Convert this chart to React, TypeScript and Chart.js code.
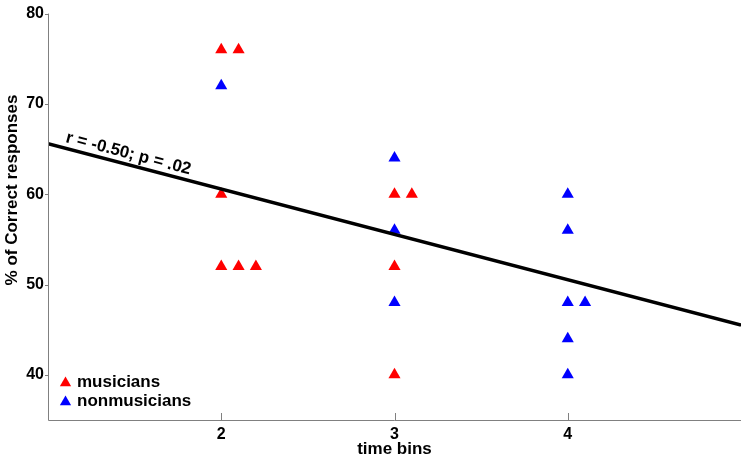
import React, { useEffect, useRef } from "react";
import { Chart, registerables } from "chart.js";

Chart.register(...registerables);

const musiciansX = [2, 2.1, 2, 2, 2.1, 2.2, 3, 3.1, 3, 3];
const musiciansY = [76, 76, 60, 52, 52, 52, 60, 60, 52, 40];
const nonmusiciansX = [2, 3, 3, 3, 4, 4, 4, 4.1, 4, 4];
const nonmusiciansY = [72, 64, 56, 48, 60, 56, 48, 48, 44, 40];
const fitX = [1, 5];
const fitY = [65.6, 45.5];
const xTicks = [2, 3, 4];
const yTicks = [40, 50, 60, 70, 80];
const seriesLabels = ["musicians", "nonmusicians"];
const seriesColors = ["#ff0000", "#0000ff"];
const annotationText = "r = -0.50; p = .02";
const xTitle = "time bins";
const yTitle = "% of Correct responses";

const FONT = '"Liberation Sans", Arial, sans-serif';

function drawTri(ctx: CanvasRenderingContext2D, x: number, y: number, r: number) {
  ctx.beginPath();
  ctx.moveTo(x, y - r);
  ctx.lineTo(x + (r * Math.sqrt(3)) / 2, y + r / 2);
  ctx.lineTo(x - (r * Math.sqrt(3)) / 2, y + r / 2);
  ctx.closePath();
  ctx.fill();
}

const decorPlugin = {
  id: "decor",
  afterDraw(chart: any) {
    const { ctx, chartArea, scales } = chart;
    const xs = scales.x;
    const ys = scales.y;
    ctx.save();
    // axes lines
    ctx.strokeStyle = "#808080";
    ctx.lineWidth = 1;
    ctx.beginPath();
    ctx.moveTo(chartArea.left + 0.5, chartArea.top);
    ctx.lineTo(chartArea.left + 0.5, chartArea.bottom + 0.5);
    ctx.lineTo(chartArea.right, chartArea.bottom + 0.5);
    ctx.stroke();
    // ticks
    ctx.beginPath();
    yTicks.forEach((v) => {
      const py = Math.round(ys.getPixelForValue(v)) + 0.5;
      ctx.moveTo(chartArea.left - 3, py);
      ctx.lineTo(chartArea.left, py);
    });
    xTicks.forEach((v) => {
      const px = Math.round(xs.getPixelForValue(v)) + 0.5;
      ctx.moveTo(px, chartArea.bottom);
      ctx.lineTo(px, chartArea.bottom - 7);
    });
    ctx.stroke();

    // y title (MATLAB places it slightly above the axis centre)
    ctx.fillStyle = "#000";
    ctx.font = `bold 17px ${FONT}`;
    ctx.translate(12, 190);
    ctx.rotate(-Math.PI / 2);
    ctx.textAlign = "center";
    ctx.textBaseline = "middle";
    ctx.fillText(yTitle, 0, 0);
    ctx.setTransform(1, 0, 0, 1, 0, 0);

    // annotation along fit line
    const x0 = xs.getPixelForValue(fitX[0]);
    const y0 = ys.getPixelForValue(fitY[0]);
    const x1 = xs.getPixelForValue(fitX[1]);
    const y1 = ys.getPixelForValue(fitY[1]);
    const ang = Math.atan2(y1 - y0, x1 - x0);
    const ax = xs.getPixelForValue(1.09);
    const t = (ax - x0) / (x1 - x0);
    const ay = y0 + t * (y1 - y0);
    ctx.translate(ax, ay);
    ctx.rotate(ang);
    ctx.fillStyle = "#000";
    ctx.font = `bold 17px ${FONT}`;
    ctx.textAlign = "left";
    ctx.textBaseline = "alphabetic";
    ctx.fillText(annotationText, 0, -6);
    ctx.setTransform(1, 0, 0, 1, 0, 0);

    // legend
    ctx.font = `bold 17px ${FONT}`;
    ctx.textBaseline = "middle";
    ctx.textAlign = "left";
    seriesLabels.forEach((lab, i) => {
      const ly = chartArea.bottom - 38 + i * 19;
      ctx.fillStyle = seriesColors[i];
      drawTri(ctx, chartArea.left + 17.5, ly + 1, 6.5);
      ctx.fillStyle = "#000";
      ctx.fillText(lab, chartArea.left + 29, ly);
    });
    ctx.restore();
  },
};

export default function App() {
  const ref = useRef<HTMLCanvasElement>(null);
  useEffect(() => {
    if (!ref.current) return;
    const chart = new Chart(ref.current, {
      type: "scatter",
      data: {
        datasets: [
          {
            type: "line",
            label: "fit",
            data: fitX.map((x, i) => ({ x, y: fitY[i] })),
            borderColor: "#000",
            borderWidth: 3.5,
            pointRadius: 0,
            order: 0,
          } as any,
          {
            label: seriesLabels[0],
            data: musiciansX.map((x, i) => ({ x, y: musiciansY[i] })),
            pointStyle: "triangle",
            pointRadius: 7,
            backgroundColor: seriesColors[0],
            borderColor: seriesColors[0],
            borderWidth: 0,
            order: 1,
          },
          {
            label: seriesLabels[1],
            data: nonmusiciansX.map((x, i) => ({ x, y: nonmusiciansY[i] })),
            pointStyle: "triangle",
            pointRadius: 7,
            backgroundColor: seriesColors[1],
            borderColor: seriesColors[1],
            borderWidth: 0,
            order: 2,
          },
        ],
      },
      options: {
        responsive: false,
        animation: false,
        devicePixelRatio: 1,
        layout: { padding: { top: 9, right: 3, left: 0, bottom: 0 } },
        plugins: { legend: { display: false }, tooltip: { enabled: false } },
        scales: {
          x: {
            type: "linear",
            min: 1,
            max: 5,
            afterBuildTicks: (s: any) => {
              s.ticks = xTicks.map((v) => ({ value: v }));
            },
            afterFit: (s: any) => {
              s.height = 40;
            },
            grid: { display: false, drawTicks: false },
            border: { display: false },
            ticks: {
              color: "#000",
              font: { family: FONT, size: 16, weight: "bold" },
              padding: 5,
              maxRotation: 0,
            },
            title: {
              display: true,
              text: xTitle,
              color: "#000",
              font: { family: FONT, size: 17, weight: "bold" },
              padding: { top: -4, bottom: 0 },
            },
          },
          y: {
            type: "linear",
            min: 35,
            max: 80,
            afterBuildTicks: (s: any) => {
              s.ticks = yTicks.map((v) => ({ value: v }));
            },
            afterFit: (s: any) => {
              s.width = 48;
            },
            grid: { display: false, drawTicks: false },
            border: { display: false },
            ticks: {
              color: "#000",
              font: { family: FONT, size: 16, weight: "bold" },
              padding: 4,
            },
          },
        },
      },
      plugins: [decorPlugin],
    } as any);
    return () => chart.destroy();
  }, []);
  return (
    <div style={{ position: "absolute", left: 0, top: 0, width: 748, height: 460, background: "#fff" }}>
      <canvas ref={ref} width={748} height={460} />
    </div>
  );
}
